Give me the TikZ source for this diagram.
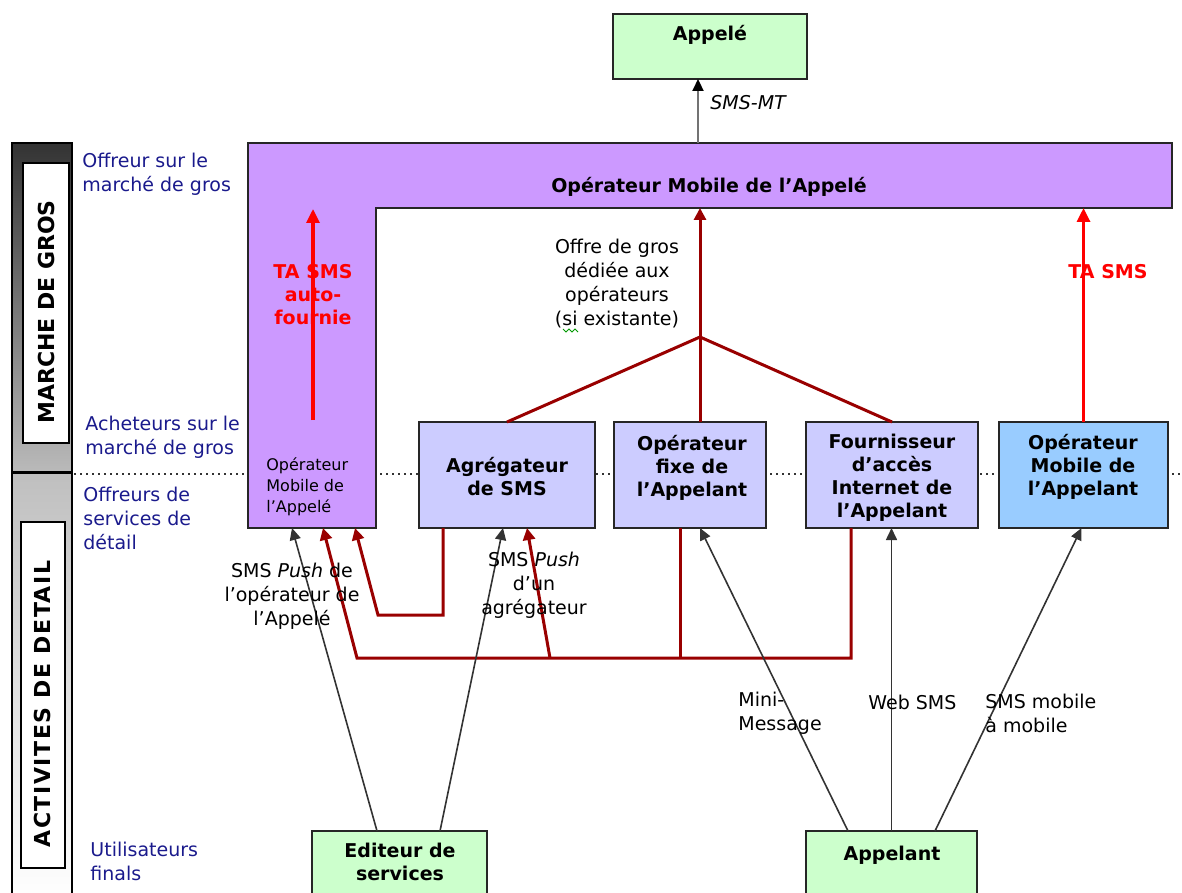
\documentclass[tikz,border=0pt]{standalone}
\usepackage{fontspec}
\setmainfont{DejaVu Sans}
\usetikzlibrary{arrows.meta}
\definecolor{cgreen}{HTML}{CCFFCC}
\definecolor{cpurple}{HTML}{CC99FF}
\definecolor{clav}{HTML}{CCCCFF}
\definecolor{cblue}{HTML}{99CCFF}
\definecolor{cdred}{HTML}{990000}
\definecolor{cnavy}{HTML}{1A1A8C}
\begin{document}
\begin{tikzpicture}[x=0.5pt,y=-0.5pt,
  box/.style={draw=black!85,line width=1pt,inner sep=0pt,outer sep=0pt},
  txt/.style={inner sep=0pt,font=\fontsize{9.5}{12}\selectfont,align=center},
  btxt/.style={inner sep=0pt,font=\fontsize{9.5}{11.5}\selectfont\bfseries,align=center},
  sidelab/.style={inner sep=0pt,text=cnavy,font=\fontsize{9.5}{12}\selectfont,align=left,anchor=west},
  blk/.style={draw=black!80,line width=0.8pt,-{Triangle[length=6pt,width=5.5pt]}},
  dred/.style={draw=cdred,line width=1.5pt},
  dredar/.style={dred,-{Triangle[length=6pt,width=6pt]}},
  redar/.style={draw=red,line width=1.6pt,-{Triangle[length=7pt,width=6.5pt]}},
  vert/.style={inner sep=0pt,rotate=90,font=\fontsize{11}{13}\selectfont\bfseries},
]
\useasboundingbox (0,0) rectangle (1182,893);
\begin{scope}
\clip (0,0) rectangle (1182,893);

% ---- sidebar ----
\shade[top color=black!80,bottom color=black!27] (12,143) rectangle (72,472);
\draw[line width=1pt] (12,143) rectangle (72,472);
\node[draw,line width=0.8pt,fill=white,minimum width=23pt,minimum height=140pt,inner sep=0pt] (sbTop) at (46,303) {};
\node[vert] (sbTopT) at (46,312) {MARCHE DE GROS};
\shade[top color=black!25,bottom color=white] (12,473) rectangle (72,900);
\draw[line width=1pt] (12,473) rectangle (72,900);
\node[draw,line width=0.8pt,fill=white,minimum width=22pt,minimum height=173pt,inner sep=0pt] (sbBot) at (43,695) {};
\node[vert] (sbBotT) at (42,704) {\addfontfeatures{LetterSpace=7}ACTIVITES DE DETAIL};

% ---- side labels ----
\node[sidelab] (l1) at (82,174) {Offreur sur le\\marché de gros};
\node[sidelab] (l2) at (85,437) {Acheteurs sur le\\marché de gros};
\node[sidelab] (l3) at (83,518) {Offreurs de\\services de\\détail};
\node[sidelab] (l4) at (90,861) {Utilisateurs\\finals};

% ---- dotted line ----
\coordinate (dotL) at (74,474);
\coordinate (dotR) at (1182,474);
\draw[black!80,line width=1pt,dash pattern=on 1pt off 2pt] (dotL) -- (dotR);

% ---- purple L shape ----
\draw[box,fill=cpurple] (248,143) -- (1172,143) -- (1172,208) -- (376,208) -- (376,528) -- (248,528) -- cycle;
\coordinate (omaBot) at (700,208);
\coordinate (smsA) at (698,143);
\coordinate (pA) at (292,528);
\coordinate (pB) at (323,528);
\coordinate (pC) at (355,528);
\coordinate (taA) at (313,420);
\coordinate (taB) at (313,209);
\coordinate (hub) at (700,337);

% ---- boxes ----
\node[box,fill=cgreen,minimum width=97pt,minimum height=32.5pt] (appele) at (710,46.5) {};
\node[box,fill=clav,minimum width=88pt,minimum height=53pt] (agg) at (507,475) {};
\node[box,fill=clav,minimum width=76pt,minimum height=53pt] (opfixe) at (690,475) {};
\node[box,fill=clav,minimum width=86pt,minimum height=53pt] (fourn) at (892,475) {};
\node[box,fill=cblue,minimum width=84.5pt,minimum height=53pt] (opmob) at (1083.5,475) {};
\node[box,fill=cgreen,minimum width=87.5pt,minimum height=40pt] (editeur) at (399.5,871) {};
\node[box,fill=cgreen,minimum width=85.5pt,minimum height=40pt] (appelant) at (891.5,871) {};

% ---- connectors ----
\draw[draw=black!55,line width=1.1pt,-{Triangle[length=6pt,width=5.5pt,color=black]}] (smsA) -- (smsA |- appele.south);
\draw[redar] (taA) -- (taB);
\draw[redar] (opmob.north) -- (opmob.north |- omaBot);
\draw[dred] (hub) -- (agg.north);
\draw[dred] (hub) -- (hub |- opfixe.north);
\draw[dred] (hub) -- (fourn.north);
\draw[dredar] (hub) -- (omaBot);

\draw[dredar] ([xshift=12pt]agg.south west) |- (378,615) -- (pC);
\draw[dredar] ([xshift=22.5pt]fourn.south west) |- (357,658) -- (pB);
\draw[dred] ([xshift=-5pt]opfixe.south) -- ++(0,130);
\draw[dredar] (550,658) -- ([xshift=10pt]agg.south);

\draw[blk] ([xshift=32.5pt]editeur.north west) -- (pA);
\draw[blk] ([xshift=64pt]editeur.north west) -- ([xshift=-2pt]agg.south);
\draw[blk] ([xshift=-21.75pt]appelant.north) -- ([xshift=5pt]opfixe.south);
\draw[blk] (appelant.north) -- (appelant.north |- fourn.south);
\draw[blk] ([xshift=21.75pt]appelant.north) -- ([xshift=-1pt]opmob.south);

% ---- texts ----
\node[btxt] (appeleT) at (710,35) {Appelé};
\node[btxt] (omaT) at (709,187) {Opérateur Mobile de l’Appelé};
\node[inner sep=0pt,anchor=west,align=left,font=\fontsize{8}{10.5}\selectfont] (omaS) at (266,487) {Opérateur\\Mobile de\\l’Appelé};
\node[btxt,text=red] (taL) at (313,295) {TA SMS\\auto-\\fournie};
\node[btxt,text=red] (taR) at (1108,272) {TA SMS};
\node[txt] (offre) at (617,284) {Offre de gros\\dédiée aux\\opérateurs\\(si existante)};
\draw[green!60!black,line width=0.5pt] (563,329) -- (566,332) -- (569,329) -- (572,332) -- (575,329) -- (578,332);
\node[btxt] (aggT) at (507,477) {Agrégateur\\de SMS};
\node[btxt] (opfixeT) at (692,468) {Opérateur\\fixe de\\l’Appelant};
\node[btxt] (fournT) at (892,478) {Fournisseur\\d’accès\\Internet de\\l’Appelant};
\node[btxt] (opmobT) at (1083,467) {Opérateur\\Mobile de\\l’Appelant};
\node[btxt] (editeurT) at (400,862) {Editeur de\\services};
\node[btxt] (appelantT) at (892,855) {Appelant};
\node[txt,anchor=west] (smsmt) at (710,103) {\textit{SMS-MT}};
\node[txt] (push1) at (292,596) {SMS \textit{Push} de\\l’opérateur de\\l’Appelé};
\node[txt] (push2) at (534,585) {SMS \textit{Push}\\d’un\\agrégateur};
\node[txt,anchor=west,align=left] (mini) at (738,713) {Mini-\\Message};
\node[txt,anchor=west] (web) at (868,702) {Web SMS};
\node[txt,anchor=west,align=left] (smsmob) at (985,713) {SMS mobile\\à mobile};
\end{scope}
\end{tikzpicture}
\end{document}
